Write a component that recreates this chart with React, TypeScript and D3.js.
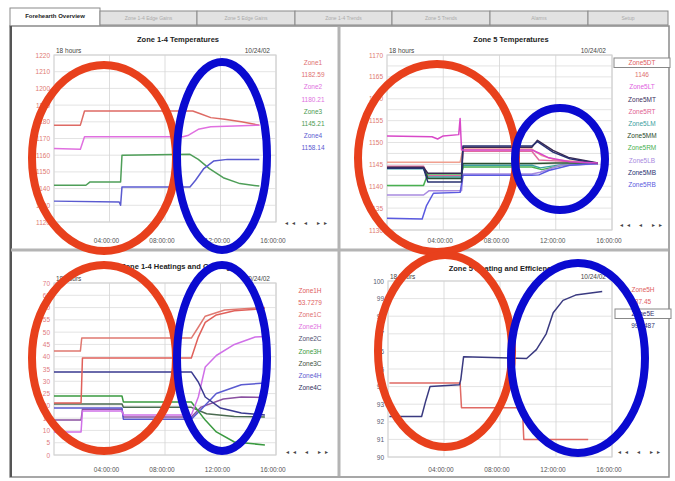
import React from "react";
import * as d3 from "d3";

type Pt = [number, number];

// ---------- tabs ----------
const tabLabels = ["Forehearth Overview", "Zone 1-4 Edge Gains", "Zone 5 Edge Gains", "Zone 1-4 Trends", "Zone 5 Trends", "Alarms", "Setup"];

// ---------- common time axis ----------
const timeTicks = [4, 8, 12, 16];
const timeTickLabels = ["04:00:00", "08:00:00", "12:00:00", "16:00:00"];
const spanLabel = "18 hours";
const dateLabel = "10/24/02";

// ---------- panel 1: Zone 1-4 Temperatures ----------
const p1Title = "Zone 1-4 Temperatures";
const p1YTicks = [1120, 1130, 1140, 1150, 1160, 1170, 1180, 1190, 1200, 1210, 1220];
const p1Legend = ["Zone1", "1182.59", "Zone2", "1180.21", "Zone3", "1145.21", "Zone4", "1158.14"];
const p1Zone1: Pt[] = [[0, 1178], [1.9, 1178], [2.2, 1186.5], [10.0, 1186.5], [10.5, 1185], [11.3, 1182.5], [12.3, 1181.5], [13.5, 1180], [14.8, 1178]];
const p1Zone2: Pt[] = [[0, 1164], [1.9, 1163.5], [2.2, 1171], [9.3, 1171], [9.7, 1172], [10.4, 1175.5], [11.3, 1177], [13, 1177.5], [14.8, 1178]];
const p1Zone3: Pt[] = [[0, 1142], [2.3, 1142], [2.6, 1144], [4.8, 1144], [4.9, 1160], [9.8, 1160.5], [10.4, 1157.5], [11.2, 1152], [12.2, 1146.5], [13.4, 1143], [14.8, 1141.5]];
const p1Zone4: Pt[] = [[0, 1132.5], [4.7, 1132], [4.8, 1130], [4.9, 1141], [9.8, 1141], [10.2, 1145], [10.8, 1152], [11.5, 1156.5], [12.5, 1157.5], [14.8, 1157.5]];

// ---------- panel 2: Zone 5 Temperatures ----------
const p2Title = "Zone 5 Temperatures";
const p2YTicks = [1130, 1135, 1140, 1145, 1150, 1155, 1160, 1165, 1170];
const p2Legend = ["Zone5DT", "1146", "Zone5LT", "Zone5MT", "Zone5RT", "Zone5LM", "Zone5MM", "Zone5RM", "Zone5LB", "Zone5MB", "Zone5RB"];
const p2DT: Pt[] = [[0, 1145.5], [5.2, 1145.5], [5.4, 1148.5], [10.3, 1148.5], [11, 1147], [12, 1146], [15, 1145.3]];
const p2LT: Pt[] = [[0, 1151.5], [3.2, 1151.3], [3.6, 1150.8], [4.0, 1151.5], [5.1, 1151.8], [5.2, 1155.5], [5.3, 1148.3], [10.3, 1148.3], [10.8, 1147.6], [11.5, 1146.5], [13, 1145.6], [15, 1145.3]];
const p2MT: Pt[] = [[0, 1144.3], [2.6, 1144.3], [2.9, 1143], [5.3, 1143], [5.4, 1148.9], [10.3, 1148.9], [10.7, 1150.5], [11.8, 1148.2], [12.9, 1146.6], [15, 1145.3]];
const p2RT: Pt[] = [[0, 1144.6], [2.6, 1144.6], [2.9, 1142.4], [5.3, 1142.4], [5.4, 1148], [10.3, 1148], [10.8, 1146], [12, 1145.8], [15, 1145.2]];
const p2LM: Pt[] = [[0, 1144], [2.6, 1144], [2.9, 1142.1], [5.3, 1142.1], [5.4, 1144.8], [10.3, 1144.8], [10.9, 1144.2], [12.5, 1145], [15, 1145.2]];
const p2MM: Pt[] = [[0, 1144.3], [2.6, 1144.3], [2.9, 1141.8], [5.3, 1141.8], [5.4, 1145.2], [10.3, 1145.2], [12, 1145.3], [15, 1145.3]];
const p2RM: Pt[] = [[0, 1140.2], [2.6, 1140.2], [2.9, 1142.8], [5.3, 1142.8], [5.4, 1144.4], [10.3, 1144.4], [11, 1143.8], [12.5, 1144.8], [15, 1145.2]];
const p2LB: Pt[] = [[0, 1138], [2.6, 1138], [3.0, 1139], [5.3, 1139], [5.4, 1142.8], [10.3, 1142.8], [10.9, 1143.2], [12.3, 1144.8], [15, 1145.1]];
const p2MB: Pt[] = [[0, 1144.1], [2.6, 1144.1], [2.9, 1141], [5.3, 1141], [5.4, 1149.2], [10.3, 1149.2], [10.7, 1150.2], [11.8, 1147.8], [13, 1146.3], [15, 1145.2]];
const p2RB: Pt[] = [[0, 1132.7], [2.5, 1132.5], [2.8, 1135.5], [3.3, 1138.4], [5.2, 1138.6], [5.4, 1142.5], [10.3, 1142.5], [10.8, 1142.6], [11.5, 1143.6], [13, 1144.8], [15, 1145.2]];

// ---------- panel 3: Zone 1-4 Heatings and Coolings ----------
const p3Title = "Zone 1-4 Heatings and Coolings";
const p3YTicks = [0, 5, 10, 15, 20, 25, 30, 35, 40, 45, 50, 55, 60, 65, 70];
const p3Legend = ["Zone1H", "53.7279", "Zone1C", "Zone2H", "Zone2C", "Zone3H", "Zone3C", "Zone4H", "Zone4C"];
const p3Z1H: Pt[] = [[0, 42.3], [1.9, 42.3], [2.0, 47.6], [9.9, 47.6], [10.4, 52], [10.9, 56.5], [12.3, 59], [15.2, 60]];
const p3Z1C: Pt[] = [[0, 21.2], [1.95, 21.2], [2.05, 39.5], [9.9, 39.5], [10.4, 48], [10.9, 54], [11.7, 57], [13.0, 58.7], [15.2, 59.6]];
const p3Z2H: Pt[] = [[0, 9.4], [1.95, 9.4], [2.05, 17.9], [4.9, 17.9], [5.0, 16.3], [9.9, 16.3], [10.4, 23.6], [10.9, 35.8], [11.7, 40.5], [13.0, 45], [14.5, 48], [15.2, 48.2]];
const p3Z2C: Pt[] = [[0, 14.2], [1.95, 14.2], [2.05, 18.6], [4.9, 18.6], [5.0, 15.5], [9.9, 15.5], [10.6, 19.5], [12.2, 22.8], [13.5, 23.6], [15.2, 23.4]];
const p3Z3H: Pt[] = [[0, 24], [4.9, 24], [5.0, 21.6], [9.9, 21.6], [10.9, 14.2], [11.7, 9.4], [13.0, 5.3], [15.2, 4.1]];
const p3Z3C: Pt[] = [[0, 20.8], [4.9, 20.8], [5.0, 19.4], [9.9, 19.4], [11.0, 16.8], [13.0, 15.7], [15.2, 15.5]];
const p3Z4H: Pt[] = [[0, 33.8], [9.9, 33.8], [10.4, 29.7], [10.9, 23.6], [12.0, 19.1], [13.5, 17.1], [15.2, 16.3]];
const p3Z4C: Pt[] = [[0, 19.1], [4.9, 19.1], [5.0, 14.6], [9.9, 14.6], [10.6, 18.5], [11.7, 25], [13.5, 28.6], [15.2, 29.3]];

// ---------- panel 4: Zone 5 Heating and Efficiency ----------
const p4Title = "Zone 5 Heating and Efficiency";
const p4YTicks = [90, 91, 92, 93, 94, 95, 96, 97, 98, 99, 100];
const p4Legend = ["Zone5H", "87.45", "Zone5E", "99.3487"];
const p4Heat: Pt[] = [[0.1, 94.2], [5.15, 94.2], [5.25, 92.8], [9.6, 92.8], [9.7, 91.0], [14.3, 91.0]];
const p4Eff: Pt[] = [[0.1, 92.3], [2.4, 92.3], [2.7, 93.2], [3.0, 94.0], [5.1, 94.1], [5.2, 94.4], [5.4, 95.7], [9.9, 95.6], [10.6, 96.1], [11.3, 97.0], [11.8, 98.2], [12.5, 98.9], [13.4, 99.2], [15.3, 99.4]];

// ---------- layout / style ----------
interface Series { data: Pt[]; color: string; }
interface PanelCfg {
  title: string; titleX: number; titleY: number;
  left: number; right: number; top: number; bottom: number;
  yTicks: number[]; yGrid: number[]; yLabelColor: string;
  series: Series[];
  legend: string[]; legendColors: string[]; legendX: number; legendY: number; legendStep: number; boxed: number;
  xLabelY: number; navY: number; navX: number;
}

function range(a: number, b: number, s: number) { return d3.range(a, b + s / 2, s); }

const panels: PanelCfg[] = [
  {
    title: p1Title, titleX: 178, titleY: 42, left: 54, right: 276, top: 55, bottom: 222,
    yTicks: p1YTicks, yGrid: p1YTicks, yLabelColor: "#e07a72",
    series: [
      { data: p1Zone1, color: "#de6a64" }, { data: p1Zone2, color: "#e070e0" },
      { data: p1Zone3, color: "#4e9e58" }, { data: p1Zone4, color: "#5a5ad0" },
    ],
    legend: p1Legend, legendColors: ["#e07070", "#e07070", "#e070e0", "#e070e0", "#4a9a50", "#4a9a50", "#5a5ad0", "#5a5ad0"],
    legendX: 313, legendY: 65, legendStep: 12.2, boxed: -1, xLabelY: 243, navY: 225, navX: 308,
  },
  {
    title: p2Title, titleX: 511, titleY: 42, left: 387, right: 612, top: 55, bottom: 230,
    yTicks: p2YTicks, yGrid: range(1130, 1170, 2.5), yLabelColor: "#e07a72",
    series: [
      { data: p2DT, color: "#f0a090" }, { data: p2RT, color: "#e06aa0" },
      { data: p2LM, color: "#3aa0a0" }, { data: p2RM, color: "#48b050" },
      { data: p2MM, color: "#2c5030" }, { data: p2LB, color: "#a88ae0" },
      { data: p2RB, color: "#5a5ae0" }, { data: p2MT, color: "#3a2a50" },
      { data: p2MB, color: "#283070" }, { data: p2LT, color: "#d848c8" },
    ],
    legend: p2Legend, legendColors: ["#e06060", "#e07070", "#e060e0", "#403060", "#e06090", "#3aa0a0", "#2a4a2a", "#48b050", "#a88ae0", "#283070", "#5a5ae0"],
    legendX: 642, legendY: 65, legendStep: 12.2, boxed: 0, xLabelY: 243, navY: 227, navX: 643,
  },
  {
    title: p3Title, titleX: 178, titleY: 269, left: 54, right: 276, top: 283, bottom: 455,
    yTicks: p3YTicks, yGrid: p3YTicks, yLabelColor: "#e07a80",
    series: [
      { data: p3Z3C, color: "#4a6a50" }, { data: p3Z2C, color: "#8a50a0" },
      { data: p3Z4C, color: "#5a5ad0" }, { data: p3Z3H, color: "#3a9a40" },
      { data: p3Z2H, color: "#d070e8" }, { data: p3Z4H, color: "#3a3a90" },
      { data: p3Z1C, color: "#e0605a" }, { data: p3Z1H, color: "#e07870" },
    ],
    legend: p3Legend, legendColors: ["#e06060", "#e06060", "#e07070", "#e070e0", "#505070", "#3a9a40", "#405040", "#5a5ad0", "#303060"],
    legendX: 310, legendY: 293, legendStep: 12.1, boxed: -1, xLabelY: 472, navY: 454, navX: 309,
  },
  {
    title: p4Title, titleX: 502, titleY: 271, left: 388, right: 612, top: 281, bottom: 457,
    yTicks: p4YTicks, yGrid: p4YTicks, yLabelColor: "#555a70",
    series: [
      { data: p4Heat, color: "#e06a64" }, { data: p4Eff, color: "#3a3a80" },
    ],
    legend: p4Legend, legendColors: ["#e06060", "#e06060", "#303070", "#303070"],
    legendX: 643, legendY: 292, legendStep: 12, boxed: 2, xLabelY: 472, navY: 454, navX: 641,
  },
];

// annotation ellipses [cx, cy, rx, ry, colour]
const ellipses: [number, number, number, number, string][] = [
  [104, 158, 72, 93, "#e8401c"], [222, 156, 45, 94, "#0a0ad0"],
  [437, 158, 79, 94, "#e8401c"], [560, 159, 45, 51, "#0a0ad0"],
  [104, 358, 72, 93, "#e8401c"], [222, 358, 45, 93, "#0a0ad0"],
  [445, 351, 67, 96, "#e8401c"], [578, 358, 67, 95, "#0a0ad0"],
];

const FONT = "'Liberation Sans', Arial, sans-serif";

function Panel({ cfg }: { cfg: PanelCfg }) {
  const x = d3.scaleLinear().domain([0, 16]).range([cfg.left, cfg.right]);
  const y = d3.scaleLinear().domain([cfg.yTicks[0], cfg.yTicks[cfg.yTicks.length - 1]]).range([cfg.bottom, cfg.top]);
  const line = d3.line<Pt>().x((d) => x(d[0])).y((d) => y(d[1]));
  const w = cfg.right - cfg.left;
  return (
    <g fontFamily={FONT}>
      <text x={cfg.titleX} y={cfg.titleY} fontSize={7.5} fontWeight="bold" textAnchor="middle" fill="#222">{cfg.title}</text>
      <rect x={cfg.left} y={cfg.top} width={w} height={cfg.bottom - cfg.top} fill="#fff" stroke="#c8c8c8" strokeWidth={1} />
      {cfg.yGrid.map((v) => (
        <line key={"g" + v} x1={cfg.left} x2={cfg.right} y1={y(v)} y2={y(v)} stroke="#dcdcdc" strokeWidth={0.8} />
      ))}
      {timeTicks.map((t) => (
        <line key={"v" + t} x1={x(t)} x2={x(t)} y1={cfg.top} y2={cfg.bottom} stroke="#d4d4d4" strokeWidth={0.8} />
      ))}
      {cfg.yTicks.map((v) => (
        <text key={"y" + v} x={cfg.left - 4} y={y(v) + 2.5} fontSize={6.5} textAnchor="end" fill={cfg.yLabelColor}>{v}</text>
      ))}
      {timeTicks.map((t, i) => (
        <text key={"x" + t} x={x(t) - 3} y={cfg.xLabelY} fontSize={6.5} textAnchor="middle" fill="#555">{timeTickLabels[i]}</text>
      ))}
      <text x={cfg.left + 2} y={cfg.top - 2} fontSize={6.5} fill="#444">{spanLabel}</text>
      <text x={cfg.right - 6} y={cfg.top - 2} fontSize={6.5} textAnchor="end" fill="#444">{dateLabel}</text>
      {cfg.series.map((s, i) => (
        <path key={"s" + i} d={line(s.data) || ""} fill="none" stroke={s.color} strokeWidth={1.5} strokeLinejoin="round" />
      ))}
      {cfg.legend.map((l, i) => (
        <g key={"l" + i}>
          {i === cfg.boxed && (
            <rect x={cfg.legendX - 28} y={cfg.legendY + i * cfg.legendStep - 7} width={56} height={9.5} fill="#fff" stroke="#888" strokeWidth={1} />
          )}
          <text x={cfg.legendX} y={cfg.legendY + i * cfg.legendStep} fontSize={6.5} textAnchor="middle" fill={cfg.legendColors[i]}>{l}</text>
        </g>
      ))}
      <text x={cfg.navX} y={cfg.navY} fontSize={6} textAnchor="middle" fill="#444" letterSpacing={4}>◂◂ ◂ ▸▸</text>
    </g>
  );
}

export default function App() {
  const tabX = [10, 100, 197, 295, 392, 490, 588, 668];
  return (
    <svg width={675} height={481} style={{ position: "absolute", left: 0, top: 0, background: "#fff" }}>
      <rect x={0} y={0} width={675} height={481} fill="#fff" />
      {tabLabels.map((t, i) => {
        const x0 = tabX[i];
        const x1 = tabX[i + 1];
        const active = i === 0;
        return (
          <g key={t}>
            <rect x={x0} y={active ? 8 : 11} width={x1 - x0} height={active ? 19 : 14} fill={active ? "#fff" : "#e2e2e2"} stroke="#8a8a8a" strokeWidth={1} />
            <text x={(x0 + x1) / 2} y={active ? 18 : 20} fontSize={active ? 6 : 5} fontWeight={active ? "bold" : "normal"} textAnchor="middle" fill={active ? "#222" : "#aaa"} fontFamily={FONT}>{t}</text>
          </g>
        );
      })}
      <rect x={10} y={26} width={659} height={451} fill="#fff" stroke="#8a8a8a" strokeWidth={1.5} />
      <line x1={11} x2={11} y1={26} y2={477} stroke="#555" strokeWidth={2} />
      <line x1={339} x2={339} y1={27} y2={476} stroke="#b4b4b4" strokeWidth={3} />
      <line x1={11} x2={668} y1={250} y2={250} stroke="#b4b4b4" strokeWidth={3} />
      {panels.map((p, i) => <Panel key={i} cfg={p} />)}
      {ellipses.map((e, i) => (
        <ellipse key={"e" + i} cx={e[0]} cy={e[1]} rx={e[2]} ry={e[3]} fill="none" stroke={e[4]} strokeWidth={8} />
      ))}
    </svg>
  );
}
